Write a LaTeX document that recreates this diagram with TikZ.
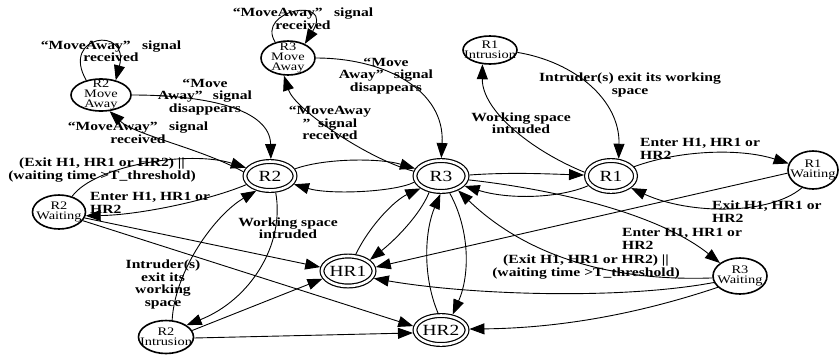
\documentclass[tikz,border=0pt]{standalone}
\usepackage{fontspec}
\setmainfont{Liberation Serif}[FakeStretch=1.25]
\usetikzlibrary{arrows.meta,shapes.geometric}
\tikzset{
 st/.style={ellipse, draw, line width=1.6pt, inner sep=0pt},
 dst/.style={ellipse, draw, line width=1.2pt, double, double distance=2.6pt, inner sep=0pt, outer sep=2.5pt, font=\fontsize{15.5}{16}\selectfont},
 ntext/.style={font=\fontsize{11.5}{10}\selectfont, align=center, inner sep=0pt},
 lbl/.style={font=\bfseries\fontsize{12.5}{12.5}\selectfont, align=center, inner sep=0pt},
 lbll/.style={lbl, align=left},
 edge/.style={-{Triangle[length=15pt,width=11pt]}, line width=0.9pt},
}
\begin{document}
\begin{tikzpicture}[x=1pt,y=-1pt]
\useasboundingbox (0,0) rectangle (840,360);
% nodes
\node[st, minimum width=60pt, minimum height=32pt, label={[ntext]center:R2\\Move\\Away}] (R2MA) at (101,95) {};
\node[st, minimum width=54pt, minimum height=34pt, label={[ntext]center:R3\\Move\\Away}] (R3MA) at (288,58) {};
\node[st, minimum width=54pt, minimum height=28pt, label={[ntext]center:R1\\Intrusion}] (R1I) at (490,50) {};
\node[st, minimum width=53pt, minimum height=34pt, label={[ntext]center:R2\\Waiting}] (R2W) at (59,212) {};
\node[st, minimum width=55pt, minimum height=33pt, label={[ntext]center:R2\\Intrusion}] (R2I) at (166,337) {};
\node[st, minimum width=50pt, minimum height=38pt, label={[ntext]center:R1\\Waiting}] (R1W) at (813,170) {};
\node[st, minimum width=54pt, minimum height=36pt, label={[ntext]center:R3\\Waiting}] (R3W) at (740,276) {};
\node[dst, minimum width=50pt, minimum height=29pt] (R2) at (270,176) {R2};
\node[dst, minimum width=52pt, minimum height=31pt] (R3) at (441,176) {R3};
\node[dst, minimum width=49pt, minimum height=31pt] (R1) at (611,176) {R1};
\node[dst, minimum width=52pt, minimum height=30pt] (HR1) at (348,271) {HR1};
\node[dst, minimum width=52pt, minimum height=29pt] (HR2) at (441,330) {HR2};
% edges
\draw[edge] (R2MA.135) .. controls (60,35) and (130,25) .. (R2MA.45);
\draw[edge] (R2MA.east) .. controls (210,95) and (270,110) .. (R2.87);
\draw[edge] (R2.171) .. controls (200,148) and (135,135) .. (R2MA.298);
\draw[edge] (R3MA.129) .. controls (255,10) and (335,-5) .. (R3MA.40);
\draw[edge] (R3MA.east) .. controls (385,58) and (445,90) .. (R3.89);
\draw[edge] (R3.170) .. controls (370,160) and (295,110) .. (R3MA.257);
\draw[edge] (R1I.-5) .. controls (575,62) and (620,100) .. (R1.66);
\draw[edge] (R1.172) .. controls (530,150) and (482,110) .. (R1I.242);
\draw[edge] (R2.16) .. controls (325,158) and (380,158) .. (R3.164);
\draw[edge] (R3.193) .. controls (395,192) and (330,195) .. (R2.341);
\draw[edge] (R3.2) .. controls (510,172) and (550,174) .. (R1.178);
\draw[edge] (R1.203) .. controls (560,198) and (510,200) .. (R3.337);
\draw[edge] (R1.22) .. controls (680,150) and (740,148) .. (R1W.165);
\draw[edge] (R1W.238) .. controls (770,215) and (690,215) .. (R1.329);
\draw[edge] (R1W.187) -- (HR1.8);
\draw[edge] (R3.352) .. controls (560,190) and (660,215) .. (R3W.147);
\draw[edge] (R3W.184) .. controls (600,282) and (520,250) .. (R3.320);
\draw[edge] (R3W.194) .. controls (620,300) and (470,295) .. (HR1.344);
\draw[edge] (R3W.207) .. controls (650,310) and (570,328) .. (HR2.2);
\draw[edge] (HR1.65) .. controls (370,225) and (395,200) .. (R3.211);
\draw[edge] (R3.234) .. controls (420,215) and (395,240) .. (HR1.27);
\draw[edge] (HR2.100) .. controls (422,275) and (425,230) .. (R3.268);
\draw[edge] (R3.297) .. controls (470,230) and (470,275) .. (HR2.53);
\draw[edge] (R2W.50) .. controls (95,165) and (190,150) .. (R2.161);
\draw[edge] (R2.200) .. controls (210,200) and (140,215) .. (R2W.352);
\draw[edge] (R2W.347) -- (HR1.172);
\draw[edge] (R2W.340) -- (HR2.172);
\draw[edge] (R2I.14) -- (HR1.197);
\draw[edge] (R2I.-2) -- (HR2.186);
\draw[edge] (R2.289) .. controls (285,245) and (250,300) .. (R2I.30);
\draw[edge] (R2I.70) .. controls (175,270) and (215,215) .. (R2.227);
% labels
\node[lbl] (l1) at (111,51) {“MoveAway”\hspace{.6em} signal\\received};
\node[lbl] (l2) at (205,97) {“Move\\Away”\hspace{.5em} signal\\disappears};
\node[lbl] (l3) at (138,132.5) {“MoveAway”\hspace{.6em} signal\\received};
\node[lbl] (l4) at (303,18.5) {“MoveAway”\hspace{.6em} signal\\received};
\node[lbl] (l5) at (386,76) {“Move\\Away”\hspace{.5em} signal\\disappears};
\node[lbl] (l6) at (330,123) {“MoveAway\\”\hspace{.3em} signal\\received};
\node[lbl] (l7) at (630,85) {Intruder(s) exit its working\\space};
\node[lbl] (l8) at (521,123) {Working space\\intruded};
\node[lbll, anchor=west] (l9) at (640,149) {Enter H1, HR1 or\\HR2};
\node[lbll, anchor=west] (l10) at (712,211.5) {Exit H1, HR1 or\\HR2};
\node[lbll, anchor=west] (l11) at (622,239) {Enter H1, HR1 or\\HR2};
\node[lbl] (l12) at (586,267) {(Exit H1, HR1 or HR2) ||\\(waiting time >T\_threshold)};
\node[lbl] (l13) at (102,170) {(Exit H1, HR1 or HR2) ||\\(waiting time >T\_threshold)};
\node[lbll, anchor=west] (l14) at (90,203) {Enter H1, HR1 or\\HR2};
\node[lbl] (l15) at (288,228) {Working space\\intruded};
\node[lbl] (l16) at (163,284.5) {Intruder(s)\\exit its\\working\\space};
\end{tikzpicture}
\end{document}
